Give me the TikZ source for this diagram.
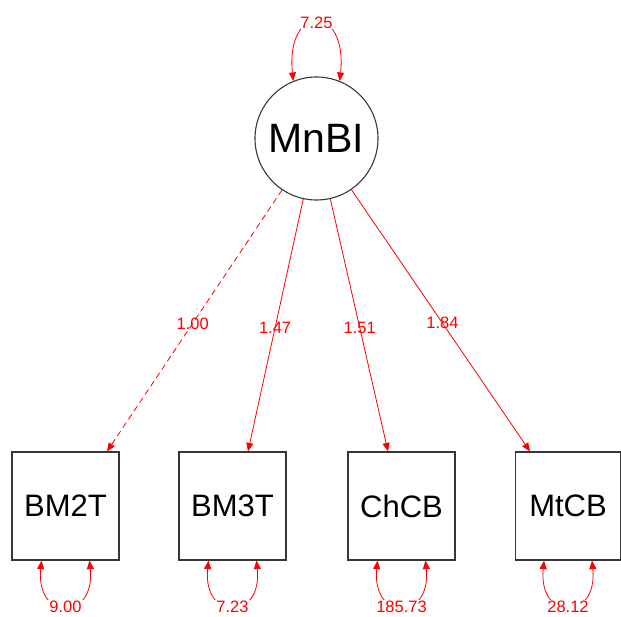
\documentclass[tikz,border=0pt]{standalone}
\usepackage{fontspec}
\setmainfont{Liberation Sans}
\usetikzlibrary{arrows.meta}
\definecolor{boxline}{RGB}{55,55,55}
\definecolor{pathred}{RGB}{255,0,0}
\tikzset{
  latent/.style={circle, draw=boxline, line width=1.1pt, minimum size=123pt, inner sep=0pt, font=\fontsize{41}{44}\selectfont},
  manifest/.style={rectangle, draw=boxline, line width=1.2pt, minimum width=107pt, minimum height=108pt, inner sep=0pt, font=\fontsize{31}{33}\selectfont},
  loading/.style={draw=pathred, line width=0.8pt, -{Triangle[length=8.5pt,width=7pt]}},
  varloop/.style={draw=pathred, line width=0.8pt, {Triangle[length=8.5pt,width=7pt]}-{Triangle[length=8.5pt,width=7pt]}},
  estlabel/.style={text=pathred, font=\fontsize{16.5}{18}\selectfont, inner sep=1pt},
  looplabel/.style={text=pathred, fill=white, font=\fontsize{16.5}{18}\selectfont, inner sep=1pt}
}
\begin{document}
\begin{tikzpicture}[x=1pt,y=-1pt]
\useasboundingbox (0,0) rectangle (621,617);
\node[latent] (mn) at (316.5,138.5) {MnBI};
\node[manifest] (b2) at (65.5,506) {BM2T};
\node[manifest] (b3) at (232.5,506) {BM3T};
\node[manifest] (ch) at (401.5,506) {ChCB};
\node[manifest, minimum width=105pt] (mt) at (568,506) {MtCB};
% loadings
\draw[loading, dash pattern=on 6pt off 4pt] (mn) -- ([xshift=41.5pt]b2.north) node[estlabel, pos=0.51] (l1) {1.00};
\draw[loading] (mn) -- ([xshift=15.5pt]b3.north) node[estlabel, pos=0.51] (l2) {1.47};
\draw[loading] (mn) -- ([xshift=-13.5pt]ch.north) node[estlabel, pos=0.51] (l3) {1.51};
\draw[loading] (mn) -- ([xshift=-38pt]mt.north) node[estlabel, pos=0.51] (l4) {1.84};
% latent variance
\draw[varloop] (mn.112) .. controls +(-8,-78) and +(8,-78) .. (mn.68) node[looplabel, pos=0.5] (v0) {7.25};
% residual variances
\draw[varloop] ([xshift=-24pt]b2.south) .. controls +(-6,61) and +(6,61) .. ([xshift=24pt]b2.south) node[looplabel, pos=0.5] (v1) {9.00};
\draw[varloop] ([xshift=-24pt]b3.south) .. controls +(-6,61) and +(6,61) .. ([xshift=24pt]b3.south) node[looplabel, pos=0.5] (v2) {7.23};
\draw[varloop] ([xshift=-24pt]ch.south) .. controls +(-6,61) and +(6,61) .. ([xshift=24pt]ch.south) node[looplabel, pos=0.5] (v3) {185.73};
\draw[varloop] ([xshift=-24pt]mt.south) .. controls +(-6,61) and +(6,61) .. ([xshift=24pt]mt.south) node[looplabel, pos=0.5] (v4) {28.12};
\end{tikzpicture}
\end{document}
